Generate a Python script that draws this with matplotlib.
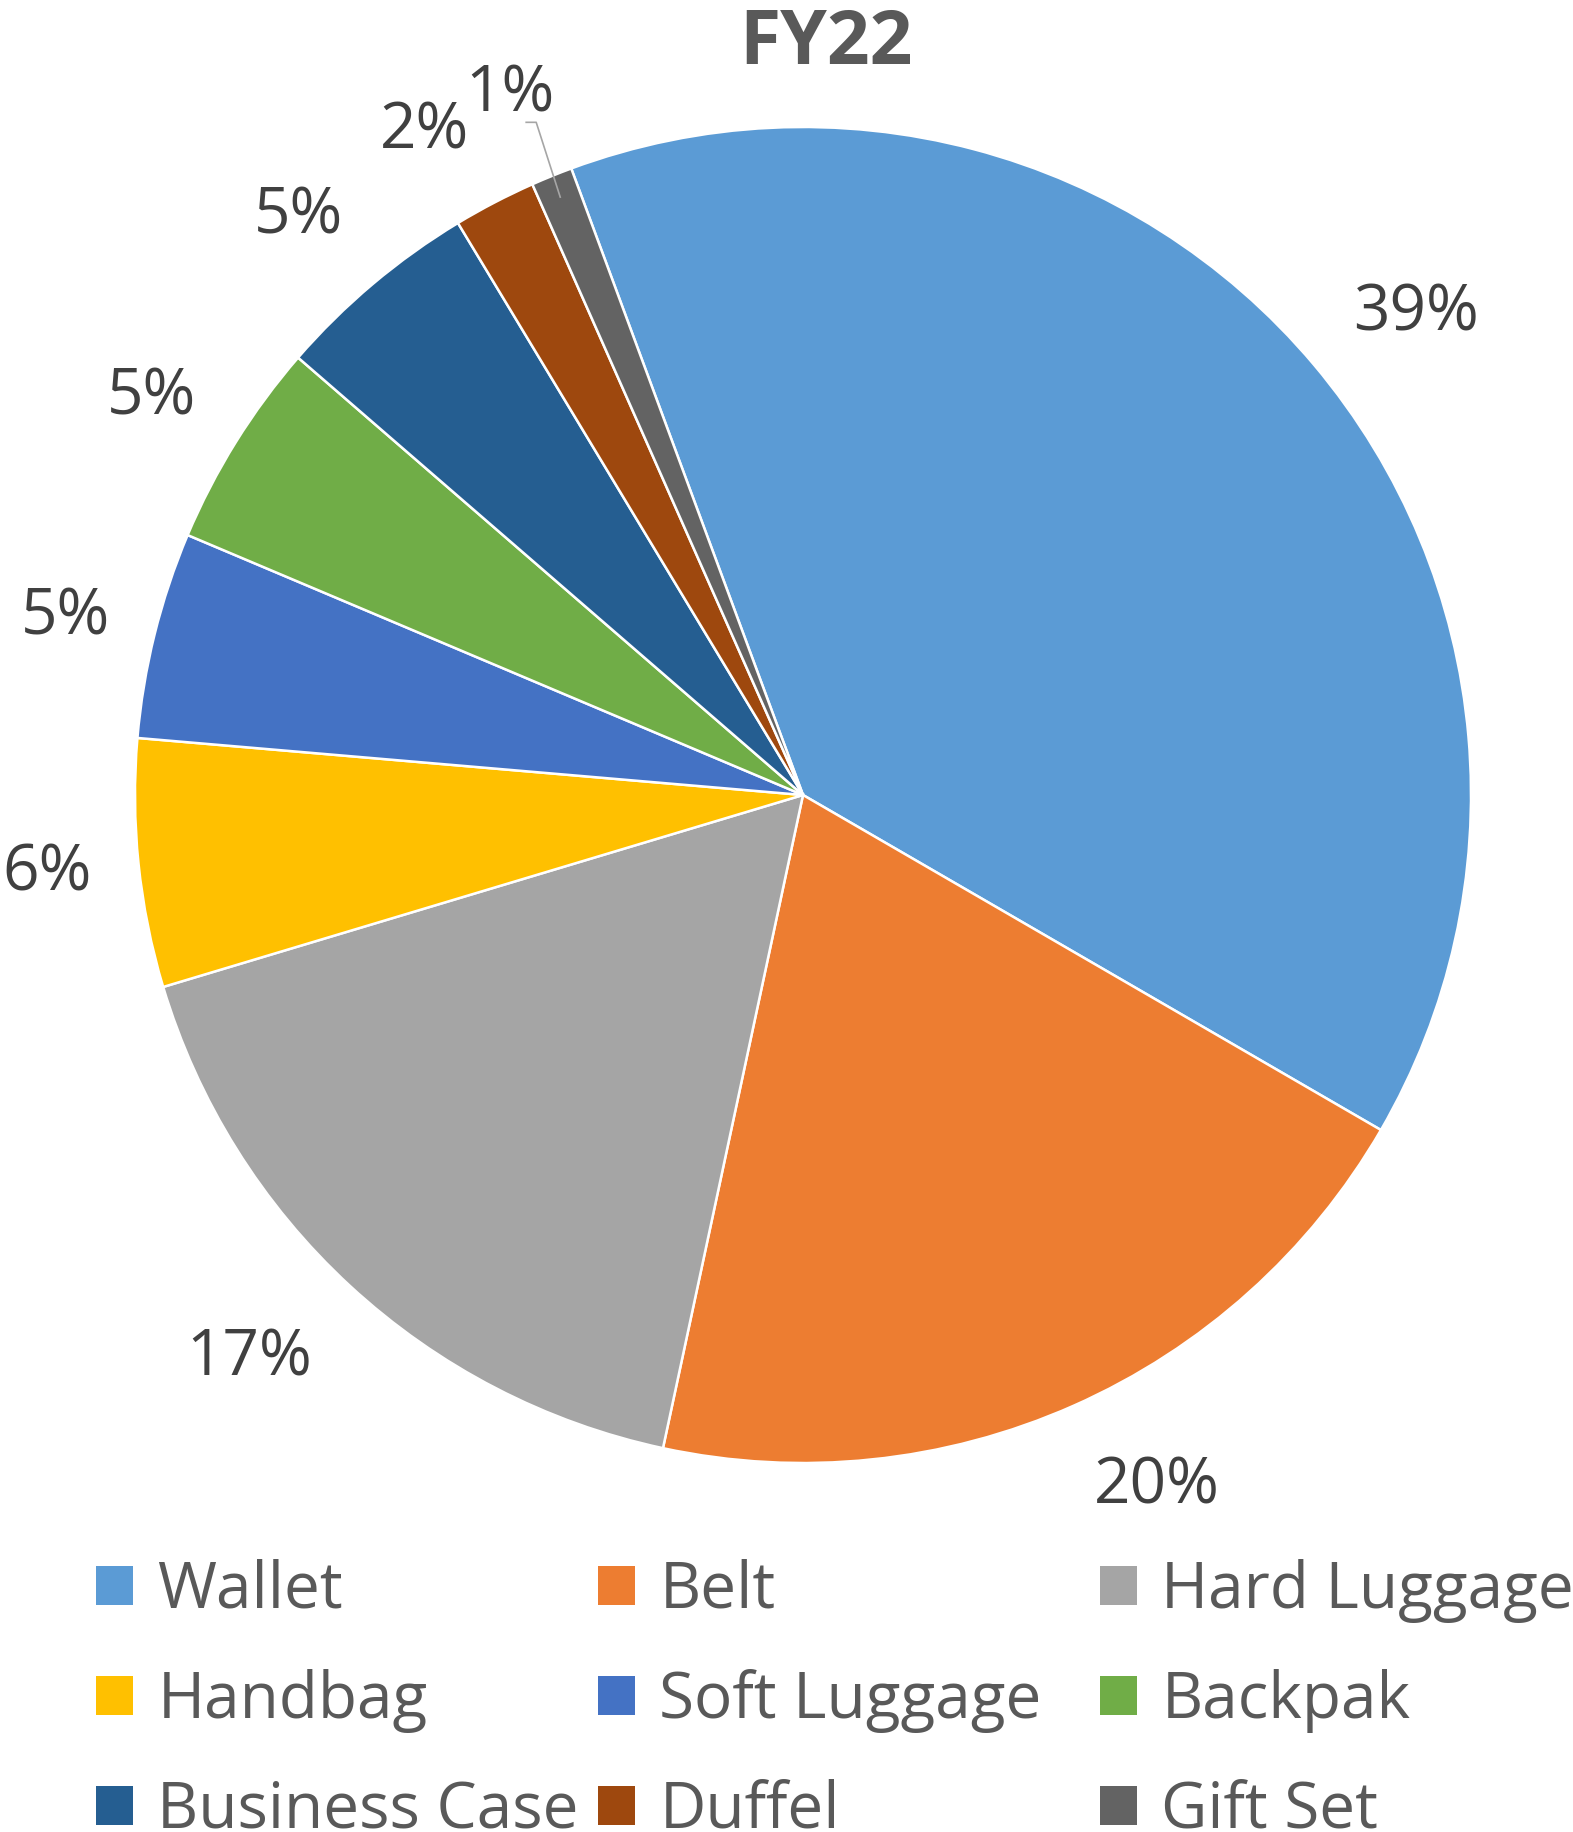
import numpy as np
import matplotlib.pyplot as plt
from matplotlib.patches import Patch

plt.rcParams['font.family'] = ['Open Sans', 'DejaVu Sans']

# FY22 share by category (%)
names = ['Wallet', 'Belt', 'Hard Luggage', 'Handbag', 'Soft Luggage',
         'Backpak', 'Business Case', 'Duffel', 'Gift Set']
shares = [39, 20, 17, 6, 5, 5, 5, 2, 1]
colors = ['#5B9BD5', '#ED7D31', '#A5A5A5', '#FFC000', '#4472C4',
          '#70AD47', '#255E91', '#9E480E', '#636363']

# label placement (radius multiples, clockwise nudge in degrees)
lab_dist = [1.167, 1.163, 1.182, 1.138, 1.136, 1.143, 1.150, 1.143, 1.136]
lab_nudge = [2.0, -3.2, 1.8, 0.0, -0.4, -0.5, -1.0, -2.2, -0.6]

W, H = 1573, 1832
fig = plt.figure(figsize=(W / 100, H / 100), dpi=100)

# pie centre (803, 795) px, radius 668 px
cx, cy, r = 803, 795, 668
ax = fig.add_axes([(cx - r) / W, (H - cy - r) / H, 2 * r / W, 2 * r / H])

wedges, texts, autotexts = ax.pie(
    shares, colors=colors, startangle=110.3, counterclock=False,
    wedgeprops=dict(edgecolor='white', linewidth=1.8),
    autopct=lambda p: '%d%%' % round(p), pctdistance=1.15,
    textprops=dict(fontsize=46, color='#404040'))
for w, t, d, n in zip(wedges, autotexts, lab_dist, lab_nudge):
    phi = np.deg2rad((w.theta1 + w.theta2) / 2 - n)
    t.set_position((d * np.cos(phi), d * np.sin(phi)))
    t.set_clip_on(False)
ax.set_xlim(-1, 1)
ax.set_ylim(-1, 1)
ax.axis('off')

# leader line for the small Gift Set slice
w = wedges[-1]
mid = np.deg2rad((w.theta1 + w.theta2) / 2)
tx, ty = autotexts[-1].get_position()
ax.plot([0.966 * np.cos(mid), tx + 0.039, tx + 0.024],
        [0.966 * np.sin(mid), ty - 0.041, ty - 0.041],
        color='#A6A6A6', lw=1.2, clip_on=False)

fig.text(826 / W, 1 - 45 / H, 'FY22', ha='center', va='center',
         fontsize=54, fontweight='bold', color='#595959')

# legend laid out row by row in three fixed columns
for j in range(3):
    idx = [j, j + 3, j + 6]
    handles = [Patch(facecolor=colors[i], edgecolor='none') for i in idx]
    leg = fig.legend(handles, [names[i] for i in idx], loc='center left',
                     bbox_to_anchor=((96 + 502 * j) / W, (H - 1701) / H),
                     frameon=False, fontsize=46, borderpad=0, borderaxespad=0,
                     handlelength=0.58, handleheight=0.58, handletextpad=0.38,
                     labelspacing=0.72)
    for t in leg.get_texts():
        t.set_color('#595959')

fig.savefig('out.png', dpi=100)
